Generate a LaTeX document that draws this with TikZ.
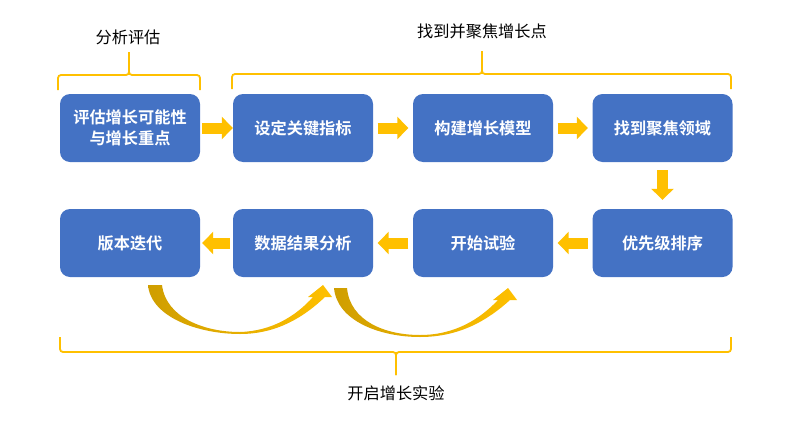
\documentclass[tikz,border=0pt]{standalone}
\usepackage{fontspec}
\setmainfont{Noto Sans CJK SC}[BoldFont={Noto Sans CJK SC Bold}]
\usetikzlibrary{arrows.meta}
\definecolor{boxblue}{HTML}{4472C4}
\definecolor{ygold}{HTML}{FFC000}
\definecolor{dgold}{HTML}{CF9E00}
\tikzset{
  stepbox/.style={draw=none, fill=boxblue, rounded corners=10pt, minimum width=140pt, minimum height=68pt, inner sep=0pt, text=white, font=\bfseries\fontsize{16.2}{21}\selectfont, align=center},
  blockarrow/.style={draw=ygold, line width=11pt, line cap=butt, -{Triangle[length=11pt,width=22pt]}},
  bracket/.style={draw=ygold, line width=1.8pt, rounded corners=3pt},
  lbl/.style={font=\fontsize{16.2}{19}\selectfont, text=black},
}
\begin{document}
\begin{tikzpicture}[x=1pt,y=-1pt]
\useasboundingbox (0,0) rectangle (802,423);
% boxes
\node[stepbox] (b1) at (130,128) {评估增长可能性\\与增长重点};
\node[stepbox] (b2) at (303,128) {设定关键指标};
\node[stepbox] (b3) at (483,128) {构建增长模型};
\node[stepbox] (b4) at (662.5,128) {找到聚焦领域};
\node[stepbox] (c4) at (662.5,243) {优先级排序};
\node[stepbox] (c3) at (483,243) {开始试验};
\node[stepbox] (c2) at (303,243) {数据结果分析};
\node[stepbox] (c1) at (130,243) {版本迭代};
% straight arrows
\draw[blockarrow] ([xshift=2pt]b1.east) -- (b2.west);
\draw[blockarrow] ([xshift=4.5pt]b2.east) -- ([xshift=-4.5pt]b3.west);
\draw[blockarrow] ([xshift=4.5pt]b3.east) -- ([xshift=-4.5pt]b4.west);
\draw[blockarrow] ([yshift=-8pt]b4.south) -- ([yshift=9pt]c4.north);
\draw[blockarrow] ([xshift=-4.5pt]c4.west) -- ([xshift=4.5pt]c3.east);
\draw[blockarrow] ([xshift=-4.5pt]c3.west) -- ([xshift=4.5pt]c2.east);
\draw[blockarrow] ([xshift=-3pt]c2.west) -- ([xshift=2pt]c1.east);
% curved arrows
\shade[left color=dgold, right color=ygold]
  (148,285) .. controls (151,318) and (200,334) .. (240,334)
  .. controls (278,334) and (305,316) .. (325,297)
  -- (332,297) -- (323,285) -- (308,297) -- (313,297)
  .. controls (296,316) and (272,331) .. (240,332)
  .. controls (205,332) and (166,318) .. (162,285) -- cycle;
\shade[left color=dgold, right color=ygold]
  (334,288) .. controls (337,321) and (380,337) .. (420,337)
  .. controls (460,337) and (488,320) .. (510,300)
  -- (517,300) -- (508,288) -- (493,300) -- (498,300)
  .. controls (480,319) and (455,335) .. (420,335)
  .. controls (385,335) and (350,321) .. (347,288) -- cycle;
% brackets
\coordinate (tl) at (129,52);
\coordinate (tr) at (482,51);
\coordinate (bt) at (396,375);
\draw[bracket] (58,90) -- (58,75) -- (129,75) -- (tl);
\draw[bracket] (200,90) -- (200,75) -- (129,75) -- (tl);
\draw[bracket] (232,89) -- (232,74) -- (482,74) -- (tr);
\draw[bracket] (731,89) -- (731,74) -- (482,74) -- (tr);
\draw[bracket] (60,337) -- (60,352) -- (396,352) -- (bt);
\draw[bracket] (731,337) -- (731,352) -- (396,352) -- (bt);
% labels
\node[lbl] (l1) at (128,37) {分析评估};
\node[lbl] (l2) at (482,31) {找到并聚焦增长点};
\node[lbl] (l3) at (396,393) {开启增长实验};
\end{tikzpicture}
\end{document}
